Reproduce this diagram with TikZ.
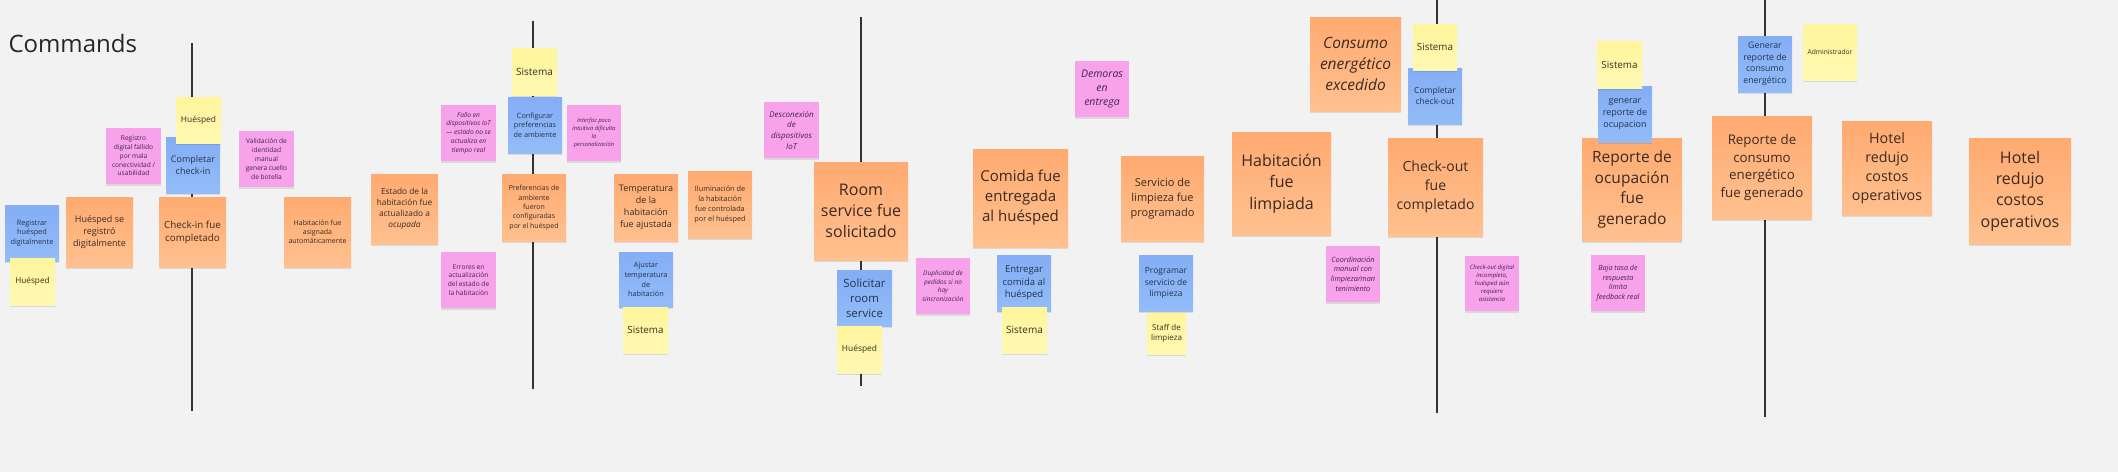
\documentclass[tikz,border=0pt]{standalone}
\usepackage{fontspec}
\setmainfont{Open Sans}
\usetikzlibrary{shadows}

\definecolor{board}{HTML}{F2F2F2}
\definecolor{lineink}{HTML}{333333}
\definecolor{orangetop}{HTML}{FFAA70}
\definecolor{orangebot}{HTML}{FFC190}
\definecolor{bluetop}{HTML}{84AEF5}
\definecolor{bluebot}{HTML}{93BCF8}
\definecolor{yellowtop}{HTML}{FFF59C}
\definecolor{yellowbot}{HTML}{FFF8B2}
\definecolor{pinknote}{HTML}{F7A2EA}
\definecolor{eventink}{HTML}{3B2A20}
\definecolor{commandink}{HTML}{22324F}
\definecolor{actorink}{HTML}{33331F}
\definecolor{issueink}{HTML}{46234A}

\newcommand{\stickyfont}[1]{\fontsize{#1}{\dimexpr #1pt*4/3\relax}\selectfont}

\begin{document}
\begin{tikzpicture}[x=1pt,y=-1pt,
    note/.style={rectangle,inner sep=1pt,align=center,
      drop shadow={shadow xshift=0.4pt,shadow yshift=-1.6pt,opacity=0.10,fill=black}},
    sticky/.style 2 args={minimum width=#1pt,minimum height=#2pt},
    event/.style={note,top color=orangetop,bottom color=orangebot,text=eventink},
    command/.style={note,top color=bluetop,bottom color=bluebot,text=commandink},
    actor/.style={note,top color=yellowtop,bottom color=yellowbot,text=actorink},
    issue/.style={note,fill=pinknote,text=issueink},
    timeline/.style={draw=lineink,line width=1.6pt}]
  \useasboundingbox (0,0) rectangle (2118,472);
  \fill[board] (0,0) rectangle (2118,472);

  \node[anchor=base west,font=\stickyfont{24},text=black!85] (title) at (5,52) {Commands};

  \coordinate (linea) at (192,43);   \coordinate (lineaend) at (192,411);
  \coordinate (lineb) at (533,21);   \coordinate (linebend) at (533,389);
  \coordinate (linec) at (861,17);   \coordinate (linecend) at (861,386);
  \coordinate (lined) at (1437,0);   \coordinate (linedend) at (1437,413);
  \coordinate (linee) at (1765,0);   \coordinate (lineeend) at (1765,417);
  \draw[timeline] (linea) -- (lineaend);
  \draw[timeline] (lineb) -- (linebend);
  \draw[timeline] (linec) -- (linecend);
  \draw[timeline] (lined) -- (linedend);
  \draw[timeline] (linee) -- (lineeend);

  \node[event,sticky={67}{70},font=\stickyfont{9}] (registered) at (99.5,232) {Huésped se\\registró\\digitalmente};
  \node[event,sticky={67}{70},font=\stickyfont{9.8}] (checkedin) at (192.5,232) {Check-in fue\\completado};
  \node[event,sticky={67}{70},font=\stickyfont{7}] (assigned) at (317.5,232) {Habitación fue\\asignada\\automáticamente};
  \node[event,sticky={67}{70},font=\stickyfont{8.3}] (occupied) at (404.5,209) {Estado de la\\habitación fue\\actualizado a\\\textit{ocupada}};
  \node[event,sticky={64}{67},font=\stickyfont{7}] (prefsset) at (534,207.5) {Preferencias de\\ambiente\\fueron\\configuradas\\por el huésped};
  \node[event,sticky={64}{67},font=\stickyfont{9}] (tempset) at (646,207.5) {Temperatura\\de la\\habitación\\fue ajustada};
  \node[event,sticky={64}{67},font=\stickyfont{7.3}] (lightset) at (720,204.5) {Iluminación de\\la habitación\\fue controlada\\por el huésped};
  \node[event,sticky={94}{98},font=\stickyfont{16}] (roomserv) at (861,211) {Room\\service fue\\solicitado};
  \node[event,sticky={95}{98},font=\stickyfont{15}] (delivered) at (1020.5,198) {Comida fue\\entregada\\al huésped};
  \node[event,sticky={83}{85},font=\stickyfont{11}] (cleanplan) at (1162.5,198.5) {Servicio de\\limpieza fue\\programado};
  \node[event,sticky={99}{103},font=\stickyfont{16}] (cleaned) at (1281.5,183.5) {Habitación\\fue\\limpiada};
  \node[event,sticky={91}{94},font=\stickyfont{15.5}\itshape] (energyhigh) at (1355.5,64) {Consumo\\energético\\excedido};
  \node[event,sticky={95}{98},font=\stickyfont{14}] (checkedout) at (1435.5,187) {Check-out\\fue\\completado};
  \node[event,sticky={100}{103},font=\stickyfont{15.5}] (occreport) at (1632,189.5) {Reporte de\\ocupación\\fue\\generado};
  \node[event,sticky={100}{103},font=\stickyfont{13.3}] (energyreport) at (1762,167.5) {Reporte de\\consumo\\energético\\fue generado};
  \node[event,sticky={90}{94},font=\stickyfont{14.3}] (costsdown) at (1887,168) {Hotel\\redujo\\costos\\operativos};
  \node[event,sticky={102}{106},font=\stickyfont{16}] (costsdowntwo) at (2020,191) {Hotel\\redujo\\costos\\operativos};

  \node[command,sticky={54}{56},font=\stickyfont{7.3}] (register) at (32,233) {Registrar\\huésped\\digitalmente};
  \node[command,sticky={54}{56},font=\stickyfont{9}] (checkin) at (193,165) {Completar\\check-in};
  \node[command,sticky={54}{56},font=\stickyfont{7.3}] (setprefs) at (535,125) {Configurar\\preferencias\\de ambiente};
  \node[command,sticky={54}{55},font=\stickyfont{7.3}] (settemp) at (646,279.5) {Ajustar\\temperatura\\de\\habitación};
  \node[command,sticky={55}{56},font=\stickyfont{11.4}] (order) at (864.5,298) {Solicitar\\room\\service};
  \node[command,sticky={54}{56},font=\stickyfont{9.5}] (deliver) at (1024,283) {Entregar\\comida al\\huésped};
  \node[command,sticky={54}{56},font=\stickyfont{8.5}] (plan) at (1166,283) {Programar\\servicio de\\limpieza};
  \node[command,sticky={54}{56},font=\stickyfont{8.5}] (checkout) at (1435,96) {Completar\\check-out};
  \node[command,sticky={54}{56},font=\stickyfont{9}] (occgen) at (1625,114) {generar\\reporte de\\ocupacion};
  \node[command,sticky={54}{56},font=\stickyfont{8.8}] (energygen) at (1765,64) {Generar\\reporte de\\consumo\\energético};

  \node[actor,sticky={45}{46},font=\stickyfont{8.4}] (guesta) at (198.5,120) {Huésped};
  \node[actor,sticky={45}{47},font=\stickyfont{8.2}] (guestb) at (32.5,281.5) {Huésped};
  \node[actor,sticky={45}{47},font=\stickyfont{10}] (systema) at (534.5,71.5) {Sistema};
  \node[actor,sticky={45}{46},font=\stickyfont{9.8}] (systemb) at (645.5,330) {Sistema};
  \node[actor,sticky={45}{47},font=\stickyfont{8.4}] (guestc) at (859.5,349.5) {Huésped};
  \node[actor,sticky={45}{46},font=\stickyfont{10}] (systemc) at (1024.5,330) {Sistema};
  \node[actor,sticky={39}{41},font=\stickyfont{8}] (staff) at (1166.5,333.5) {Staff de\\limpieza};
  \node[actor,sticky={44}{46},font=\stickyfont{9.8}] (systemd) at (1435,47) {Sistema};
  \node[actor,sticky={45}{47},font=\stickyfont{9.8}] (systeme) at (1619.5,64.5) {Sistema};
  \node[actor,sticky={54}{56},font=\stickyfont{6.7}] (admin) at (1830,52) {Administrador};

  \node[issue,sticky={55}{56},font=\stickyfont{6.6}] (badsignal) at (133.5,156) {Registro\\digital fallido\\por mala\\conectividad /\\usabilidad};
  \node[issue,sticky={55}{56},font=\stickyfont{6.6}] (manualid) at (266.5,159) {Validación de\\identidad\\manual\\genera cuello\\de botella};
  \node[issue,sticky={55}{56},font=\stickyfont{6.6}\itshape] (iotfail) at (468.5,133) {Fallo en\\dispositivos IoT\\— estado no se\\actualiza en\\tiempo real};
  \node[issue,sticky={55}{56},font=\stickyfont{6.6}] (stateerr) at (468.5,280) {Errores en\\actualización\\del estado de\\la habitación};
  \node[issue,sticky={54}{56},font=\stickyfont{5.8}\itshape] (poorui) at (594,133) {Interfaz poco\\intuitiva dificulta\\la\\personalización};
  \node[issue,sticky={55}{56},font=\stickyfont{8}\itshape] (iotlost) at (791.5,130) {Desconexión\\de\\dispositivos\\IoT};
  \node[issue,sticky={54}{56},font=\stickyfont{6.5}\itshape] (dupes) at (943,286) {Duplicidad de\\pedidos si no\\hay\\sincronización};
  \node[issue,sticky={54}{56},font=\stickyfont{10.5}\itshape] (delays) at (1102,89) {Demoras\\en\\entrega};
  \node[issue,sticky={54}{56},font=\stickyfont{7.3}\itshape] (manualcoord) at (1353,274) {Coordinación\\manual con\\limpieza/man\\tenimiento};
  \node[issue,sticky={54}{55},font=\stickyfont{6}\itshape] (checkoutgap) at (1492,283.5) {Check-out digital\\incompleto,\\huésped aún\\requiere\\asistencia};
  \node[issue,sticky={54}{56},font=\stickyfont{7.2}\itshape] (lowfeedback) at (1618,283) {Baja tasa de\\respuesta\\limita\\feedback real};
\end{tikzpicture}
\end{document}
